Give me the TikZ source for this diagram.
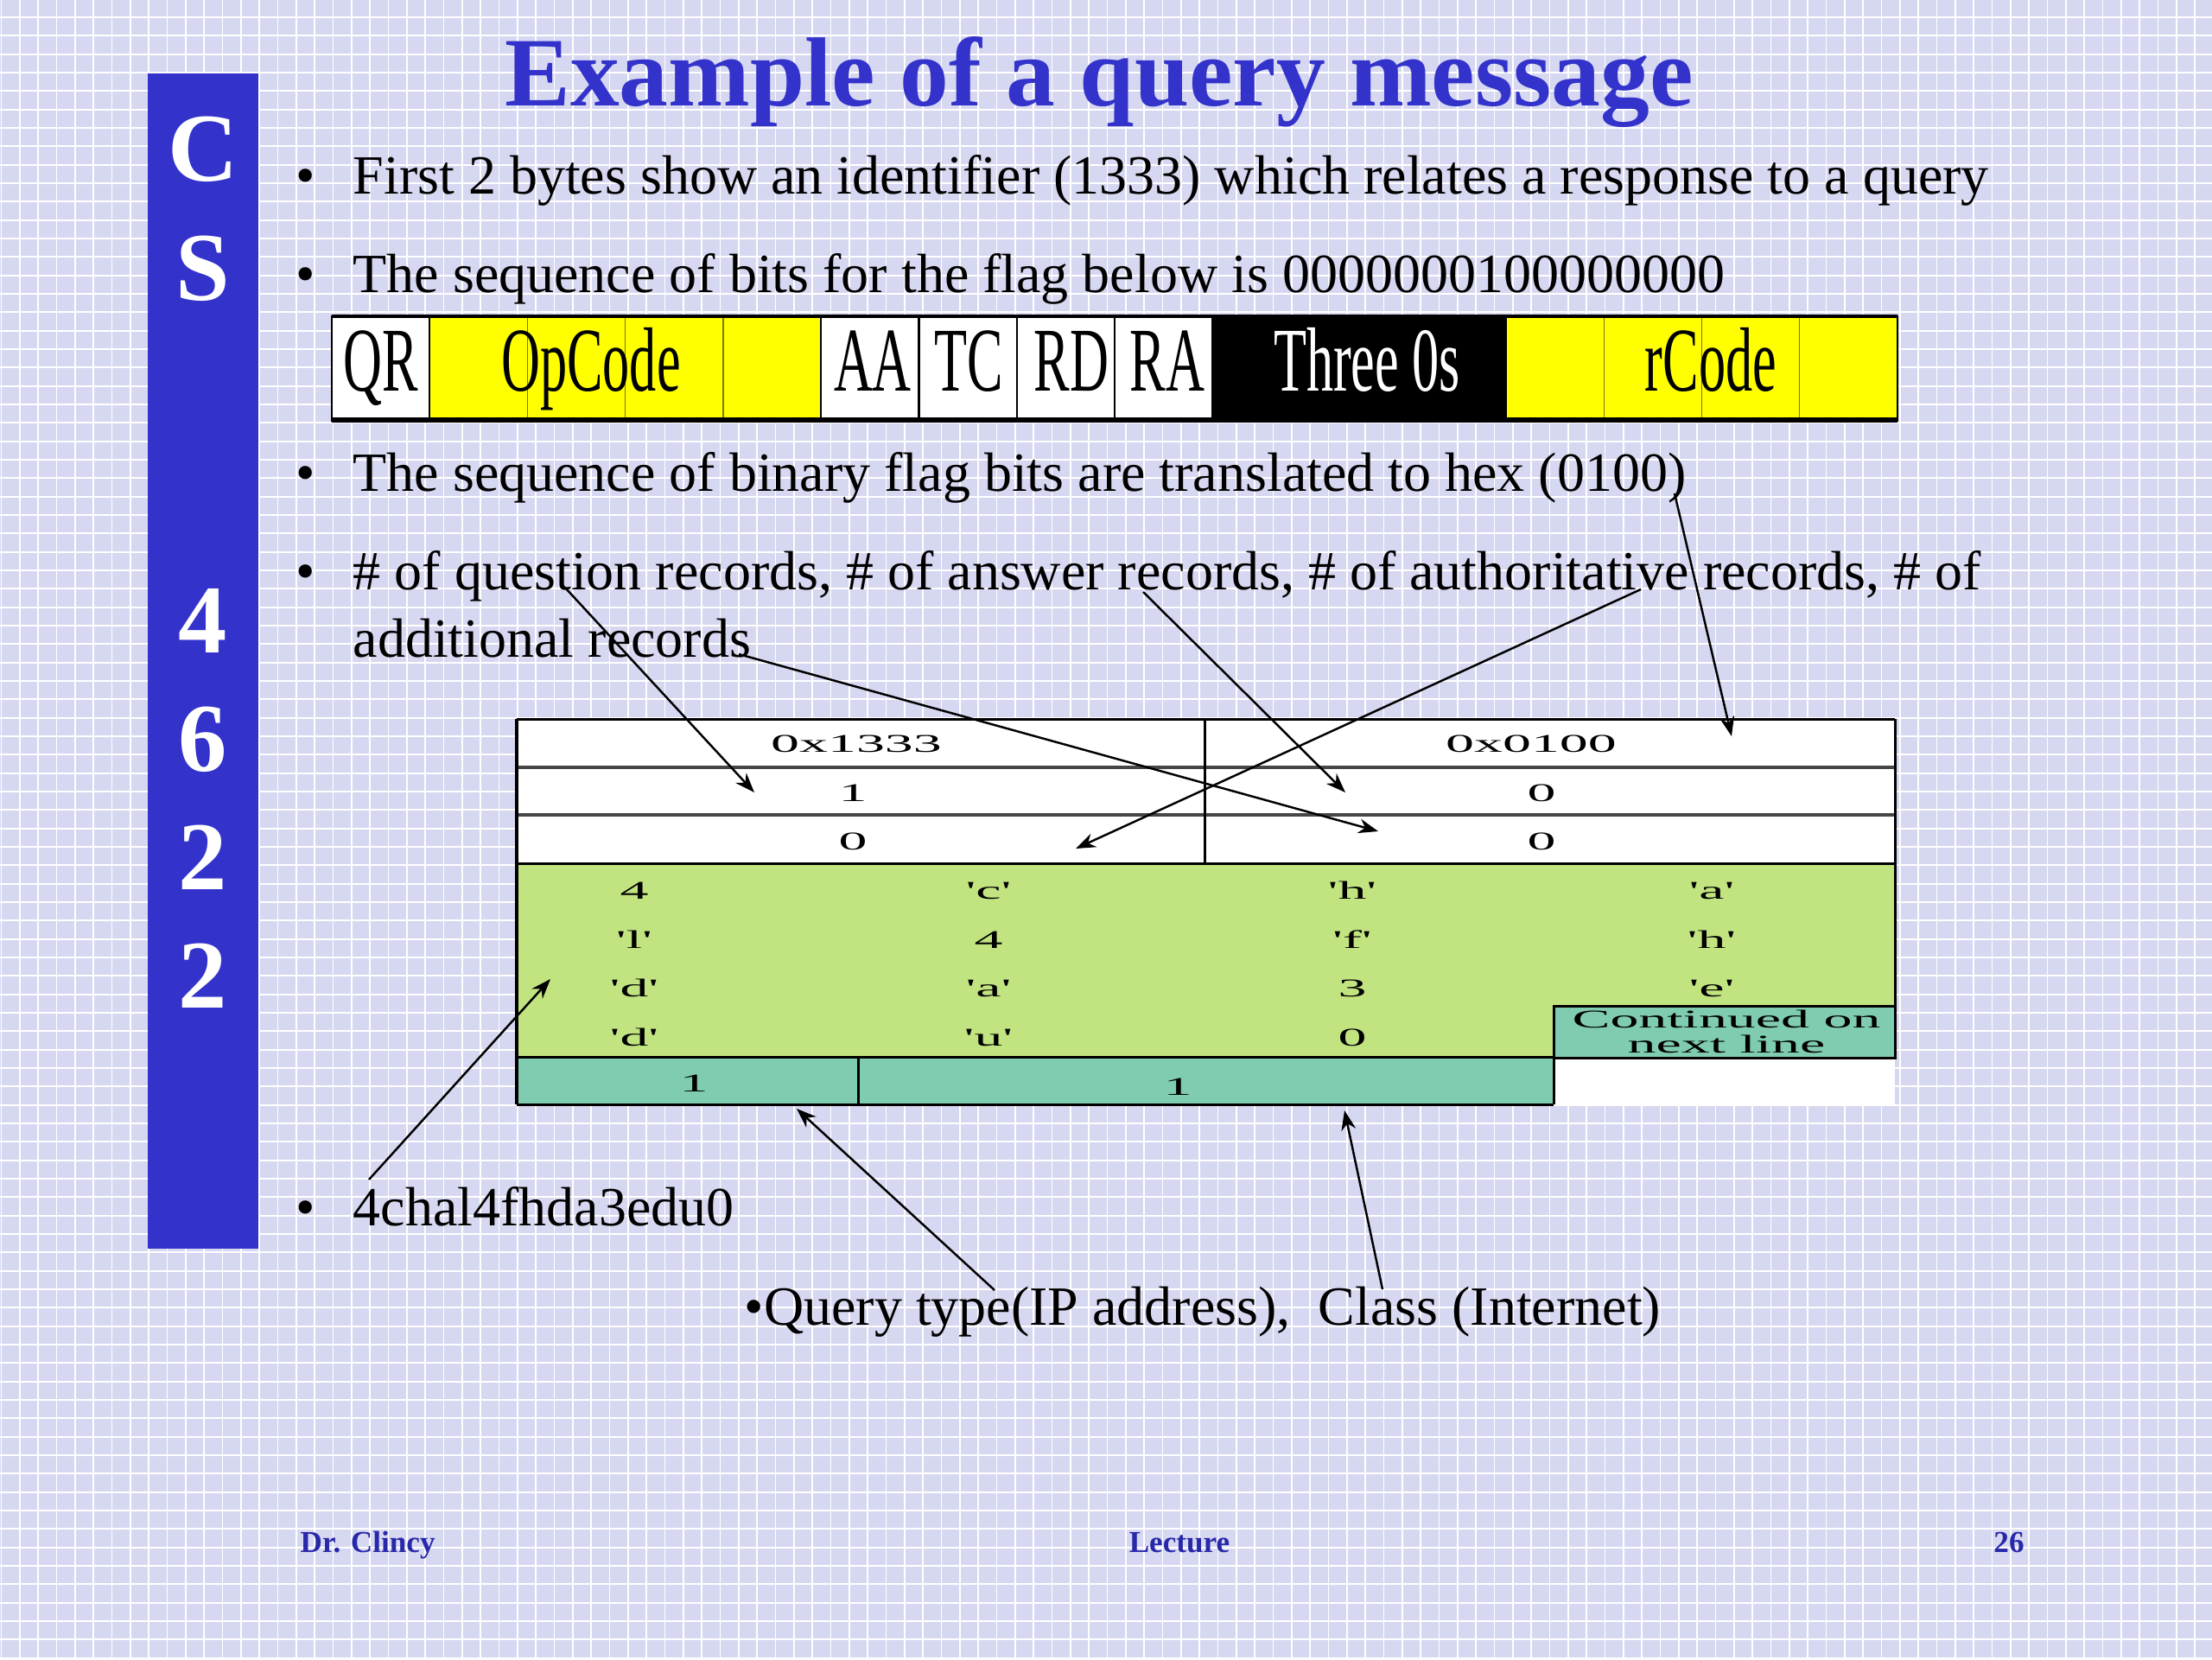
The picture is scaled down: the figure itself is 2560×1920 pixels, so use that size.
\documentclass[tikz,border=0pt]{standalone}
\usepackage{fontspec}
\setmainfont{Liberation Serif}
\usepackage{graphicx}
\usetikzlibrary{arrows.meta}
\definecolor{bgcol}{RGB}{214,215,240}
\definecolor{sideblue}{RGB}{51,51,204}
\definecolor{titleblue}{RGB}{51,51,204}
\definecolor{footblue}{RGB}{40,40,170}
\definecolor{tgreen}{RGB}{194,228,128}
\definecolor{tteal}{RGB}{128,204,176}
\definecolor{fyellow}{RGB}{255,255,0}
\definecolor{olive}{RGB}{120,120,20}
\definecolor{sepgray}{RGB}{70,70,70}
\newcommand{\sq}[1]{\textquotesingle#1\textquotesingle}
\newcommand{\fx}[1]{\scalebox{0.59}[1]{#1}}
\newcommand{\tx}[1]{\scalebox{2.23}[1]{#1}}
\begin{document}
\begin{tikzpicture}[x=0.01cm,y=-0.01cm,
  bul/.style={anchor=base west,inner sep=0,font=\fontsize{18.2}{22}\selectfont},
  dot/.style={anchor=base,inner sep=0,font=\fontsize{18.2}{22}\selectfont},
  side/.style={anchor=base,inner sep=0,text=white,font=\fontsize{32}{36}\selectfont\bfseries},
  flagtxt/.style={anchor=base,inner sep=0,font=\fontsize{30}{32}\selectfont},
  tab/.style={anchor=base,inner sep=0,font=\fontsize{8.4}{10}\selectfont},
  foot/.style={anchor=base,inner sep=0,text=footblue,font=\fontsize{10}{12}\selectfont\bfseries},
  tline/.style={line width=0.85pt,black},
  arr/.style={-{Stealth[length=6.5pt,width=4.8pt]},line width=0.7pt,black}]
\useasboundingbox (0,0) rectangle (2560,1920);
% background
\begin{scope}
\clip (0,0) rectangle (2560,1920);
\fill[bgcol] (0,0) rectangle (2560,1920);
\foreach \i in {0,...,120} \draw[white,line width=0.5pt] ({1.5+\i*21.333},0) -- ({1.5+\i*21.333},1920);
\foreach \j in {0,...,90} \draw[white,line width=0.5pt] (0,{20+\j*21.333}) -- (2560,{20+\j*21.333});
\end{scope}
% side bar
\fill[sideblue] (171,85) rectangle (299,1445);
\node[side] (sC) at (235,209) {C};
\node[side] (sS) at (235,347) {S};
\node[side] (s4) at (235,755) {4};
\node[side] (s6) at (235,892) {6};
\node[side] (s2a) at (235,1029) {2};
\node[side] (s2b) at (235,1166) {2};
% title
\node[anchor=base,inner sep=0,text=titleblue,font=\fontsize{32.3}{36}\selectfont\bfseries] (title) at (1272,122) {Example of a query message};
% bullets
\node[dot] (d1) at (354,224) {\textbullet};
\node[bul] (b1) at (408,224) {First 2 bytes show an identifier (1333) which relates a response to a query};
\node[dot] (d2) at (354,338) {\textbullet};
\node[bul] (b2) at (408,338) {The sequence of bits for the flag below is 0000000100000000};
\node[dot] (d3) at (354,568) {\textbullet};
\node[bul] (b3) at (408,568) {The sequence of binary flag bits are translated to hex (0100)};
\node[dot] (d4) at (354,682) {\textbullet};
\node[bul] (b4) at (408,682) {\# of question records, \# of answer records, \# of authoritative records, \# of};
\node[bul] (b4b) at (408,760) {additional records};
\node[dot] (d5) at (354,1418) {\textbullet};
\node[bul] (b5) at (408,1418) {4chal4fhda3edu0};
\node[bul] (b6) at (861,1533) {\textbullet Query type(IP address),\ \ Class (Internet)};
% flag bar
\foreach \i/\c in {0/white,1/fyellow,2/fyellow,3/fyellow,4/fyellow,5/white,6/white,7/white,8/white,9/black,10/black,11/black,12/fyellow,13/fyellow,14/fyellow,15/fyellow}
  \fill[\c] ({384+\i*113.25},365) rectangle ({384+(\i+1)*113.25},488);
\foreach \i in {2,3,4,13,14,15} \draw[olive,line width=0.35pt] ({384+\i*113.25},365) -- ({384+\i*113.25},488);
\foreach \i in {1,5,6,7,8,9,12} \draw[black,line width=0.6pt] ({384+\i*113.25},365) -- ({384+\i*113.25},488);
\draw[black,line width=1.1pt] (384,366) -- (2196,366);
\draw[black,line width=1.8pt] (384,486) -- (2196,486);
\draw[black,line width=0.8pt] (384,365) -- (384,488);
\draw[black,line width=0.8pt] (2196,365) -- (2196,488);
\node[flagtxt] (fQR) at (441,452) {\fx{QR}};
\node[flagtxt] (fOp) at (684,452) {\fx{OpCode}};
\node[flagtxt] (fAA) at (1010,452) {\fx{AA}};
\node[flagtxt] (fTC) at (1121,452) {\fx{TC}};
\node[flagtxt] (fRD) at (1240,452) {\fx{RD}};
\node[flagtxt] (fRA) at (1351,452) {\fx{RA}};
\node[flagtxt,text=white] (fT0) at (1582,452) {\fx{Three 0s}};
\node[flagtxt] (frC) at (1980,452) {\fx{rCode}};
% table
\fill[white] (598,832) rectangle (2193,999);
\fill[tgreen] (598,999) rectangle (2193,1223);
\fill[tteal] (1798,1164) rectangle (2193,1224);
\fill[tteal] (598,1223) rectangle (1798,1278);
\fill[white] (1798,1223) rectangle (2193,1278);
\draw[sepgray,line width=1pt] (598,888) -- (2193,888);
\draw[sepgray,line width=1pt] (598,943) -- (2193,943);
\draw[tline] (1394,832) -- (1394,999);
\draw[tline] (598,999) -- (2193,999);
\draw[tline] (598,832) -- (2193,832);
\draw[line width=1.3pt] (598,832) -- (598,1278);
\draw[tline] (2193,832) -- (2193,1224);
\draw[tline] (1798,1164) rectangle (2193,1224);
\draw[tline] (598,1223) -- (1798,1223);
\draw[tline] (598,1278) -- (1798,1278);
\draw[tline] (993,1223) -- (993,1278);
\draw[tline] (1798,1223) -- (1798,1278);
\node[tab] (t11) at (991,870) {\tx{0x1333}};
\node[tab] (t12) at (1772,870) {\tx{0x0100}};
\node[tab] (t21) at (987,927) {\tx{1}};
\node[tab] (t22) at (1784,927) {\tx{0}};
\node[tab] (t31) at (987,983) {\tx{0}};
\node[tab] (t32) at (1784,983) {\tx{0}};
\node[tab] (g11) at (734,1040) {\tx{4}};
\node[tab] (g12) at (1144,1040) {\tx{\sq{c}}};
\node[tab] (g13) at (1565,1040) {\tx{\sq{h}}};
\node[tab] (g14) at (1981,1040) {\tx{\sq{a}}};
\node[tab] (g21) at (734,1097) {\tx{\sq{l}}};
\node[tab] (g22) at (1144,1097) {\tx{4}};
\node[tab] (g23) at (1565,1097) {\tx{\sq{f}}};
\node[tab] (g24) at (1981,1097) {\tx{\sq{h}}};
\node[tab] (g31) at (734,1153) {\tx{\sq{d}}};
\node[tab] (g32) at (1144,1153) {\tx{\sq{a}}};
\node[tab] (g33) at (1565,1153) {\tx{3}};
\node[tab] (g34) at (1981,1153) {\tx{\sq{e}}};
\node[tab] (g41) at (734,1210) {\tx{\sq{d}}};
\node[tab] (g42) at (1144,1210) {\tx{\sq{u}}};
\node[tab] (g43) at (1565,1210) {\tx{0}};
\node[tab] (cont1) at (1998,1189) {\tx{Continued on}};
\node[tab] (cont2) at (1998,1218) {\tx{next line}};
\node[tab] (bt1) at (803,1263) {\tx{1}};
\node[tab] (bt2) at (1363,1267) {\tx{1}};
% arrows
\coordinate (a1s) at (654,680);  \coordinate (a1e) at (873,917);
\coordinate (a2s) at (855,757);  \coordinate (a2e) at (1595,962);
\coordinate (a3s) at (1323,685); \coordinate (a3e) at (1557,917);
\coordinate (a4s) at (1899,682); \coordinate (a4e) at (1245,982);
\coordinate (a5s) at (1938,571); \coordinate (a5e) at (2004,852);
\coordinate (a6s) at (427,1365); \coordinate (a6e) at (637,1133);
\coordinate (a7s) at (1151,1493); \coordinate (a7e) at (922,1283);
\coordinate (a8s) at (1600,1492); \coordinate (a8e) at (1556,1285);
\draw[arr] (a1s) -- (a1e);
\draw[arr] (a2s) -- (a2e);
\draw[arr] (a3s) -- (a3e);
\draw[arr] (a4s) -- (a4e);
\draw[arr] (a5s) -- (a5e);
\draw[arr] (a6s) -- (a6e);
\draw[arr] (a7s) -- (a7e);
\draw[arr] (a8s) -- (a8e);
% footer
\node[foot,anchor=base west] (f1) at (347,1796) {Dr. Clincy};
\node[foot] (f2) at (1365,1796) {Lecture};
\node[foot] (f3) at (2325,1796) {26};
\end{tikzpicture}
\end{document}
